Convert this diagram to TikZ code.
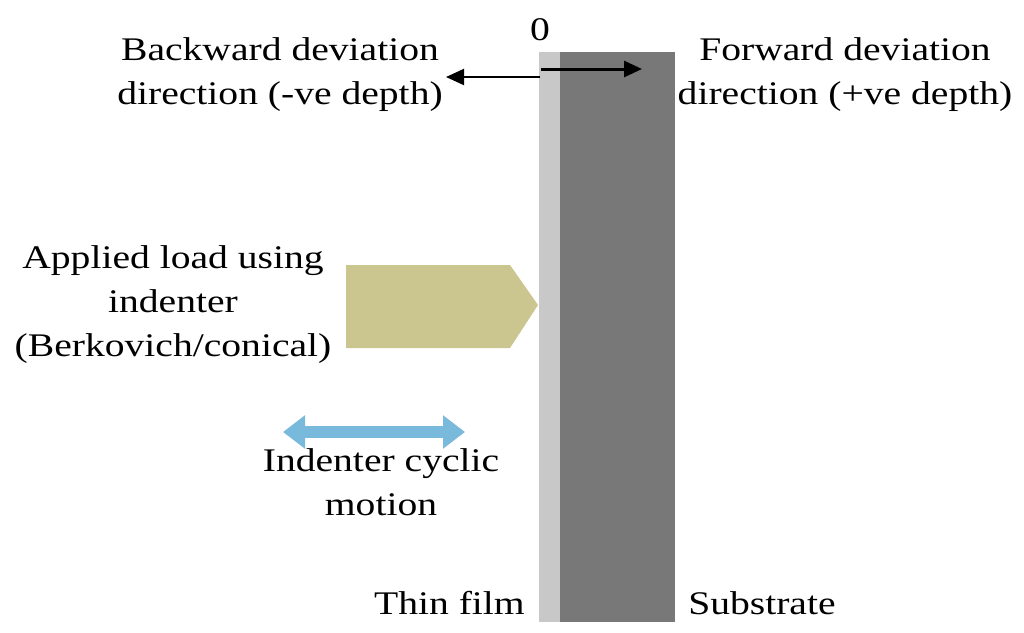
\documentclass[tikz,border=0pt]{standalone}
\usepackage{fontspec}
\setmainfont{Liberation Serif}
\usetikzlibrary{arrows.meta}
\begin{document}
\begin{tikzpicture}[x=1pt,y=-1pt,
  lbl/.style={font=\fontsize{33}{44}\selectfont,align=center,inner sep=0pt,xscale=1.2}]
\useasboundingbox (0,0) rectangle (1024,632);
\fill[fill={rgb,255:red,200;green,200;blue,200}] (539,52) rectangle (560,622);
\fill[fill={rgb,255:red,120;green,120;blue,120}] (560,52) rectangle (675,622);
\node[lbl] (zero) at (540,30) {0};
\coordinate (a0) at (540,77);
\coordinate (a1) at (446,77);
\coordinate (b0) at (541,69);
\coordinate (b1) at (642,69);
\draw[line width=2pt,-{Triangle[length=18pt,width=16pt]}] (a0) -- (a1);
\draw[line width=3pt,-{Triangle[length=18pt,width=16pt]}] (b0) -- (b1);
\node[lbl] (back) at (280,75) {Backward deviation\\direction (-ve depth)};
\node[lbl] (fwd) at (845,75) {Forward deviation\\direction (+ve depth)};
\fill[fill={rgb,255:red,203;green,198;blue,143}] (346,265) -- (510,265) -- (538,305) -- (510,348) -- (346,348) -- cycle;
\node[lbl] (load) at (173,305) {Applied load using\\indenter\\(Berkovich/conical)};
\draw[line width=12pt,draw={rgb,255:red,120;green,185;blue,220},{Triangle[length=22pt,width=32pt]}-{Triangle[length=22pt,width=32pt]}] (283,432) -- (465,432);
\node[lbl] (cyc) at (381,482) {Indenter cyclic\\motion};
\node[lbl,anchor=east] (film) at (525,603) {Thin film};
\node[lbl,anchor=west] (sub) at (688,603) {Substrate};
\end{tikzpicture}
\end{document}
